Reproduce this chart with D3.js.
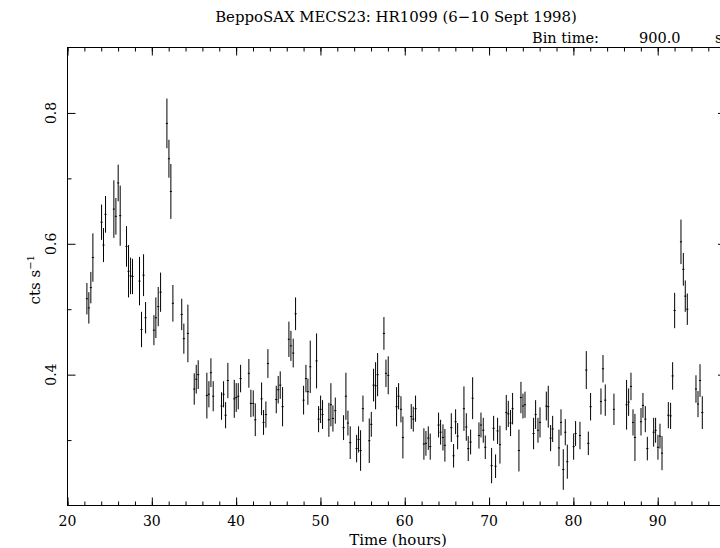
<!DOCTYPE html>
<html>
<head>
<meta charset="utf-8">
<script src="https://cdn.jsdelivr.net/npm/d3@7"></script>
<style>
  body { margin: 0; background: #fff; }
  text { font-family: "DejaVu Serif", "Liberation Serif", serif; fill: #000; }
</style>
</head>
<body>
<div id="wrapper"></div>
<script>
// light curve: bin centre (hours), rate (cts/s), 1-sigma error
const times = [
  22.30, 22.53, 22.77, 23.01,
  24.04, 24.27, 24.51,
  25.50, 25.74, 26.01, 26.25,
  27.00, 27.24, 27.48, 27.71,
  28.54, 28.78, 29.02, 29.26,
  30.25, 30.48, 30.76, 31.04,
  31.79, 32.03, 32.26, 32.50,
  33.55, 33.80, 34.28,
  35.03, 35.27, 35.50,
  36.53, 36.77, 37.01, 37.28,
  38.27, 38.51, 38.75, 39.02,
  39.78, 40.01, 40.25, 40.53,
  41.51, 41.75, 42.03, 42.27,
  43.02, 43.25, 43.53, 43.77,
  44.76, 44.99, 45.23, 45.51,
  46.26, 46.50, 46.77, 47.05,
  48.00, 48.28, 48.51, 48.79,
  49.54, 49.78, 50.02, 50.25,
  51.00, 51.24, 51.48, 51.76,
  52.74, 53.02, 53.26, 53.53,
  54.29, 54.52, 54.76, 55.04,
  55.79, 56.03, 56.30, 56.54, 56.78,
  57.53, 57.77, 58.04,
  59.03, 59.27, 59.55, 59.78,
  60.77, 61.01, 61.28,
  62.27, 62.51, 62.79, 63.02,
  64.01, 64.25, 64.53, 64.76,
  65.52, 65.79, 66.03, 66.27,
  67.02, 67.30, 67.53, 67.81, 68.05,
  68.80, 69.04, 69.31, 69.55,
  70.30, 70.54, 70.77, 71.01, 71.29,
  72.04, 72.28, 72.55, 72.79,
  73.54, 73.78, 74.02, 74.26,
  75.28, 75.52, 75.80, 76.04,
  76.79, 77.02, 77.30, 77.54,
  78.29, 78.53, 78.80, 79.04, 79.28,
  80.03, 80.26, 80.78,
  81.53, 81.77, 82.04,
  83.27, 83.51, 83.78,
  84.81,
  86.31, 86.55, 86.83, 87.07, 87.30,
  88.02, 88.25, 88.53, 88.77,
  89.52, 89.75, 90.03, 90.27, 90.51,
  91.26, 91.53, 91.77, 92.01,
  92.76, 93.04, 93.27, 93.51,
  94.54, 94.78, 95.02, 95.29
]
const rates = [
  0.516, 0.502, 0.533, 0.579,
  0.633, 0.598, 0.645,
  0.653, 0.642, 0.693, 0.643,
  0.596, 0.558, 0.551, 0.550,
  0.543, 0.469, 0.552, 0.487,
  0.468, 0.487, 0.504, 0.526,
  0.784, 0.730, 0.680, 0.509,
  0.492, 0.455, 0.463,
  0.378, 0.393, 0.400,
  0.368, 0.370, 0.403, 0.367,
  0.352, 0.370, 0.338, 0.391,
  0.363, 0.365, 0.367, 0.394,
  0.402, 0.356, 0.356, 0.331,
  0.363, 0.327, 0.339, 0.417,
  0.362, 0.377, 0.384, 0.351,
  0.454, 0.444, 0.433, 0.493,
  0.361, 0.394, 0.374, 0.412,
  0.421, 0.332, 0.347, 0.339,
  0.331, 0.354, 0.333, 0.345,
  0.319, 0.367, 0.326, 0.296,
  0.287, 0.301, 0.284, 0.348,
  0.299, 0.324, 0.384, 0.383, 0.400,
  0.463, 0.402, 0.399,
  0.351, 0.367, 0.347, 0.304,
  0.336, 0.332, 0.348,
  0.294, 0.295, 0.303, 0.290,
  0.323, 0.312, 0.304, 0.292,
  0.319, 0.276, 0.328, 0.306,
  0.348, 0.320, 0.287, 0.297, 0.364,
  0.307, 0.323, 0.315, 0.289,
  0.261, 0.318, 0.260, 0.314, 0.293,
  0.342, 0.340, 0.326, 0.348,
  0.284, 0.365, 0.352, 0.354,
  0.310, 0.339, 0.315, 0.327,
  0.352, 0.351, 0.303, 0.317,
  0.288, 0.327, 0.255, 0.312, 0.267,
  0.290, 0.310, 0.307,
  0.407, 0.295, 0.351,
  0.359, 0.409, 0.361,
  0.347,
  0.354, 0.358, 0.382, 0.327, 0.304,
  0.328, 0.353, 0.332, 0.287,
  0.312, 0.315, 0.289, 0.306, 0.280,
  0.338, 0.337, 0.398, 0.498,
  0.603, 0.561, 0.520, 0.500,
  0.378, 0.355, 0.391, 0.342
]
const errors = [
  0.024, 0.024, 0.024, 0.037,
  0.027, 0.026, 0.028,
  0.044, 0.028, 0.028, 0.046,
  0.031, 0.040, 0.028, 0.027,
  0.037, 0.027, 0.032, 0.024,
  0.023, 0.031, 0.030, 0.030,
  0.038, 0.029, 0.042, 0.028,
  0.024, 0.023, 0.044,
  0.024, 0.022, 0.022,
  0.035, 0.020, 0.022, 0.023,
  0.021, 0.020, 0.020, 0.027,
  0.029, 0.022, 0.020, 0.021,
  0.022, 0.021, 0.020, 0.025,
  0.025, 0.019, 0.020, 0.022,
  0.021, 0.021, 0.021, 0.030,
  0.027, 0.023, 0.022, 0.025,
  0.022, 0.021, 0.020, 0.040,
  0.042, 0.020, 0.021, 0.022,
  0.026, 0.033, 0.020, 0.020,
  0.019, 0.036, 0.019, 0.025,
  0.021, 0.020, 0.031, 0.020,
  0.034, 0.019, 0.025, 0.036, 0.033,
  0.025, 0.021, 0.029,
  0.030, 0.020, 0.020, 0.032,
  0.019, 0.019, 0.020,
  0.024, 0.019, 0.018, 0.020,
  0.019, 0.019, 0.020, 0.025,
  0.022, 0.018, 0.019, 0.020,
  0.034, 0.021, 0.019, 0.019, 0.032,
  0.020, 0.019, 0.019, 0.018,
  0.027, 0.019, 0.018, 0.020, 0.029,
  0.027, 0.020, 0.020, 0.024,
  0.032, 0.024, 0.019, 0.020,
  0.024, 0.022, 0.019, 0.023,
  0.022, 0.032, 0.020, 0.020,
  0.028, 0.020, 0.031, 0.020, 0.026,
  0.020, 0.019, 0.021,
  0.029, 0.018, 0.021,
  0.020, 0.021, 0.024,
  0.024,
  0.038, 0.021, 0.021, 0.020, 0.036,
  0.021, 0.019, 0.020, 0.018,
  0.022, 0.019, 0.019, 0.019, 0.026,
  0.020, 0.020, 0.021, 0.027,
  0.034, 0.025, 0.024, 0.024,
  0.021, 0.020, 0.025, 0.025
]
const binHalfWidth = 0.125   // 900 s bins, in hours
const xMajorTicks = [20, 30, 40, 50, 60, 70, 80, 90]
const xMinorTicks = d3.range(20, 100, 2)
const yMajorTicks = [0.4, 0.6, 0.8]
const yMinorTicks = [0.3, 0.5, 0.7]
const title = "BeppoSAX MECS23: HR1099 (6\u221210 Sept 1998)"

const dataset = times.map((t, i) => ({ t, r: rates[i], e: errors[i] }))

const dimensions = {
  width: 720,
  height: 548,
  left: 67.5,
  right: 726,
  top: 47.5,
  bottom: 505.5,
}

const svg = d3.select("#wrapper")
  .append("svg")
    .attr("width", dimensions.width)
    .attr("height", dimensions.height)

const xScale = d3.scaleLinear()
    .domain([20, 98.1])
    .range([dimensions.left, dimensions.right])
const yScale = d3.scaleLinear()
    .domain([0.2, 0.9])
    .range([dimensions.bottom, dimensions.top])

// frame
svg.append("rect")
    .attr("x", dimensions.left)
    .attr("y", dimensions.top)
    .attr("width", dimensions.right - dimensions.left)
    .attr("height", dimensions.bottom - dimensions.top)
    .attr("fill", "none")
    .attr("stroke", "#000")
    .attr("stroke-width", 1)

// ticks point inward on all four sides
function tickAxis(gen, ticks, size, translate) {
  const g = svg.append("g")
      .attr("transform", translate)
      .call(gen.tickValues(ticks).tickSize(-size).tickFormat(""))
  g.select(".domain").remove()
  g.selectAll("line").attr("stroke", "#000")
  return g
}
const bottomTr = `translate(0,${dimensions.bottom})`
const topTr = `translate(0,${dimensions.top})`
const leftTr = `translate(${dimensions.left},0)`
const rightTr = `translate(${dimensions.right},0)`
tickAxis(d3.axisBottom(xScale), xMajorTicks, 8, bottomTr)
tickAxis(d3.axisBottom(xScale), xMinorTicks, 4, bottomTr)
tickAxis(d3.axisTop(xScale), xMajorTicks, 8, topTr)
tickAxis(d3.axisTop(xScale), xMinorTicks, 4, topTr)
tickAxis(d3.axisLeft(yScale), yMajorTicks, 8, leftTr)
tickAxis(d3.axisLeft(yScale), yMinorTicks, 4, leftTr)
tickAxis(d3.axisRight(yScale), yMajorTicks, 8, rightTr)
tickAxis(d3.axisRight(yScale), yMinorTicks, 4, rightTr)

// tick labels
svg.append("g")
  .selectAll("text")
  .data(xMajorTicks)
  .join("text")
    .attr("x", d => xScale(d))
    .attr("y", 526)
    .attr("text-anchor", "middle")
    .style("font-size", "14px")
    .text(d => d)

svg.append("g")
  .selectAll("text")
  .data(yMajorTicks)
  .join("text")
    .attr("transform", d => `translate(56,${yScale(d)}) rotate(-90)`)
    .attr("text-anchor", "middle")
    .style("font-size", "14px")
    .text(d => d3.format(".1f")(d))

// axis titles
svg.append("text")
    .attr("x", 398)
    .attr("y", 545)
    .attr("text-anchor", "middle")
    .style("font-size", "15px")
    .text("Time (hours)")

const yLabel = svg.append("text")
    .attr("transform", `translate(40,${yScale(0.545)}) rotate(-90)`)
    .attr("text-anchor", "middle")
    .style("font-size", "15px")
yLabel.append("tspan").text("cts s")
yLabel.append("tspan")
    .attr("dy", -6)
    .style("font-size", "10px")
    .text("\u22121")

svg.append("text")
    .attr("x", 396)
    .attr("y", 22)
    .attr("text-anchor", "middle")
    .style("font-size", "14.9px")
    .text(title)

const binRow = svg.append("g").style("font-size", "14.5px")
binRow.append("text").attr("x", 532).attr("y", 43).text("Bin time:")
binRow.append("text").attr("x", 639).attr("y", 43).text("900.0")
binRow.append("text").attr("x", 715).attr("y", 43).text("s")

// error bars
const points = svg.append("g")
    .attr("stroke", "#000")
    .attr("stroke-width", 1)

points.selectAll(".ybar")
  .data(dataset)
  .join("line")
    .attr("class", "ybar")
    .attr("x1", d => xScale(d.t))
    .attr("x2", d => xScale(d.t))
    .attr("y1", d => yScale(d.r - d.e))
    .attr("y2", d => yScale(d.r + d.e))

points.selectAll(".xbar")
  .data(dataset)
  .join("line")
    .attr("class", "xbar")
    .attr("x1", d => xScale(d.t - binHalfWidth))
    .attr("x2", d => xScale(d.t + binHalfWidth))
    .attr("y1", d => yScale(d.r))
    .attr("y2", d => yScale(d.r))
</script>
</body>
</html>
